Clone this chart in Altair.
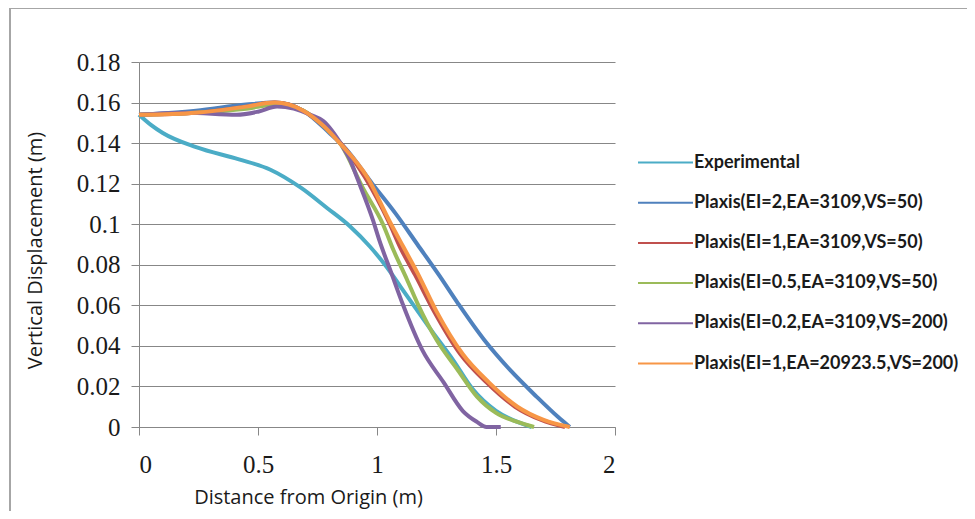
import altair as alt
import pandas as pd

series_names = [
    "Experimental",
    "Plaxis(EI=2,EA=3109,VS=50)",
    "Plaxis(EI=1,EA=3109,VS=50)",
    "Plaxis(EI=0.5,EA=3109,VS=50)",
    "Plaxis(EI=0.2,EA=3109,VS=200)",
    "Plaxis(EI=1,EA=20923.5,VS=200)",
]
series_colors = ["#4BACC6", "#4F81BD", "#C0504D", "#9BBB59", "#8064A2", "#F79646"]

exp_x = [0, 0.05, 0.1, 0.24, 0.42, 0.55, 0.68, 0.79, 0.886, 0.97, 1.04, 1.10, 1.16, 1.22, 1.32, 1.40, 1.50, 1.59, 1.65]
exp_y = [0.154, 0.149, 0.145, 0.138, 0.132, 0.127, 0.118, 0.108, 0.099, 0.089, 0.079, 0.069, 0.059, 0.049, 0.033, 0.019, 0.008, 0.0025, 0]

ei2_x = [0, 0.24, 0.45, 0.57, 0.69, 0.80, 0.87, 0.98, 1.08, 1.17, 1.26, 1.34, 1.45, 1.56, 1.67, 1.76, 1.81]
ei2_y = [0.154, 0.156, 0.159, 0.160, 0.156, 0.145, 0.137, 0.120, 0.105, 0.090, 0.075, 0.061, 0.043, 0.028, 0.015, 0.005, 0]

ei1_x = [0, 0.24, 0.45, 0.57, 0.69, 0.78, 0.84, 0.95, 1.05, 1.10, 1.16, 1.24, 1.35, 1.46, 1.58, 1.69, 1.79]
ei1_y = [0.154, 0.155, 0.158, 0.160, 0.156, 0.148, 0.141, 0.123, 0.101, 0.088, 0.075, 0.057, 0.036, 0.022, 0.010, 0.0035, 0]

ei05_x = [0, 0.24, 0.45, 0.58, 0.69, 0.78, 0.85, 0.94, 1.025, 1.07, 1.125, 1.17, 1.25, 1.34, 1.42, 1.50, 1.59, 1.66]
ei05_y = [0.154, 0.155, 0.157, 0.159, 0.156, 0.148, 0.139, 0.118, 0.100, 0.087, 0.073, 0.061, 0.043, 0.028, 0.015, 0.007, 0.0025, 0]

ei02_x = [0, 0.2, 0.41, 0.5, 0.58, 0.65, 0.72, 0.773, 0.857, 0.886, 0.916, 0.983, 1.01, 1.06, 1.11, 1.19, 1.28, 1.36, 1.42, 1.46, 1.52]
ei02_y = [0.154, 0.155, 0.154, 0.1555, 0.158, 0.157, 0.154, 0.151, 0.138, 0.132, 0.123, 0.102, 0.092, 0.076, 0.060, 0.038, 0.022, 0.008, 0.0025, 0, 0]

ea_x = [0, 0.24, 0.45, 0.57, 0.69, 0.78, 0.836, 0.96, 1.055, 1.11, 1.17, 1.25, 1.36, 1.47, 1.59, 1.70, 1.81]
ea_y = [0.154, 0.155, 0.158, 0.160, 0.156, 0.148, 0.141, 0.123, 0.101, 0.089, 0.076, 0.057, 0.036, 0.022, 0.010, 0.0035, 0]

x_ticks = [0, 0.5, 1, 1.5, 2]
y_ticks = [0, 0.02, 0.04, 0.06, 0.08, 0.1, 0.12, 0.14, 0.16, 0.18]

all_x = [exp_x, ei2_x, ei1_x, ei05_x, ei02_x, ea_x]
all_y = [exp_y, ei2_y, ei1_y, ei05_y, ei02_y, ea_y]

rows = []
for i, (name, xs, ys) in enumerate(zip(series_names, all_x, all_y)):
    for j, (xv, yv) in enumerate(zip(xs, ys)):
        rows.append({"series": name, "s": i, "idx": j, "x": xv, "y": yv})
df = pd.DataFrame(rows)

lines = alt.Chart(df).mark_line(strokeWidth=4, interpolate="monotone").encode(
    x=alt.X("x:Q", scale=alt.Scale(domain=[0, 2], nice=False),
            axis=alt.Axis(values=x_ticks, format="~g", grid=False,
                          title="Distance from Origin (m)",
                          titleX=169, titleY=70, titleBaseline="middle",
                          labelPadding=17, tickSize=8)),
    y=alt.Y("y:Q", scale=alt.Scale(domain=[0, 0.18], nice=False),
            axis=alt.Axis(values=y_ticks, format="~g", grid=True,
                          title="Vertical Displacement (m)",
                          titleX=-104, titleY=188, titleBaseline="middle",
                          titleAlign="center", titleAngle=270,
                          labelPadding=11, tickSize=8)),
    color=alt.Color("series:N", scale=alt.Scale(domain=series_names, range=series_colors),
                    legend=alt.Legend(title=None, orient="none", legendX=498, legendY=72,
                                      symbolType="stroke", symbolSize=3025,
                                      symbolStrokeWidth=2, labelOffset=0,
                                      rowPadding=2.2, labelFont="Lato",
                                      labelFontWeight="bold", labelFontSize=18,
                                      labelColor="#1a1a1a", labelLimit=400)),
    detail="s:N",
    order="idx:Q",
)

frame = alt.Chart(pd.DataFrame({"f": [0]})).mark_rect(
    filled=False, stroke="#a6a6a6", strokeWidth=2
).encode(x=alt.value(-129), x2=alt.value(900), y=alt.value(-54), y2=alt.value(600))

chart = alt.layer(frame, lines).properties(
    width=476, height=365,
    autosize=alt.AutoSizeParams(type="none"),
    padding={"left": 131, "top": 54, "right": 352, "bottom": 84},
).configure_view(stroke=None).configure_axis(
    domainColor="#878787", tickColor="#878787", gridColor="#878787",
    labelFont="Liberation Serif", labelFontSize=25, labelColor="#1a1a1a",
    titleFont="Open Sans", titleFontSize=20, titleFontWeight="normal", titleColor="#1a1a1a",
)

chart.save("out.html", embed_options={"renderer": "svg", "actions": False})
